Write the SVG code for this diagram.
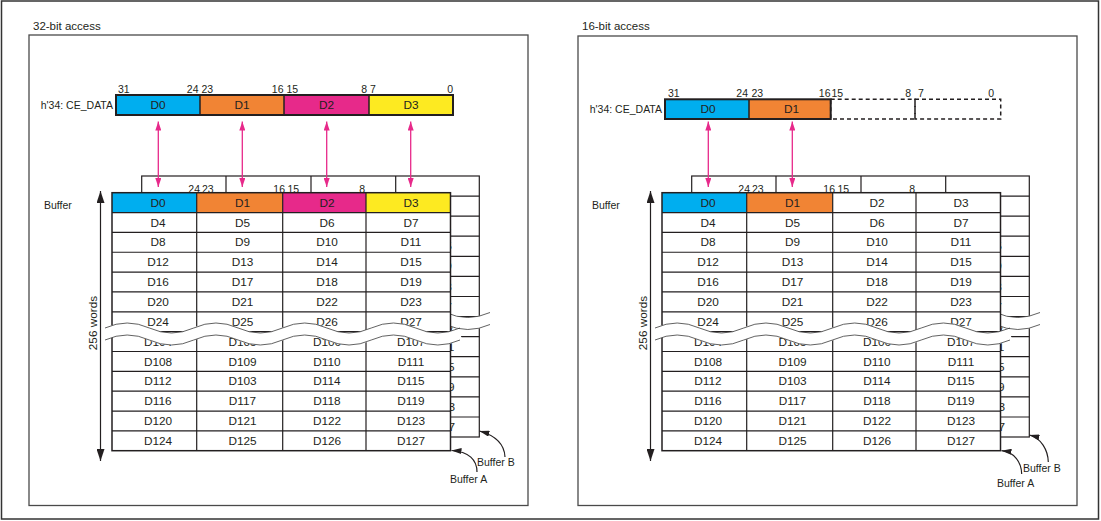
<svg xmlns="http://www.w3.org/2000/svg" xmlns:xlink="http://www.w3.org/1999/xlink" width="1101" height="521" viewBox="0 0 1101 521">
<style>
text{font-family:"Liberation Sans",Arial,sans-serif;fill:#231f20}
.t{font-size:11.8px;text-anchor:middle}
.s{font-size:10.5px}
.e{text-anchor:end}
.ti{font-size:11.5px}
.g{fill:#a9a9a9}
.ln{stroke:#231f20;stroke-width:1.2;fill:none}
.ol{stroke:#231f20;stroke-width:1.5;fill:none}
.reg{stroke:#231f20;stroke-width:2;fill:none}
.dv{stroke:#231f20;stroke-width:1.5}
.dash{stroke:#231f20;stroke-width:1.5;fill:none;stroke-dasharray:4 3}
.panel{fill:none;stroke:#4a4a4a;stroke-width:1.3}
.cy{fill:#00aeef}.or{fill:#f18434}.mg{fill:#e7298a}.ye{fill:#fdea21}
.pk{stroke:#e7298a;stroke-width:1.3;fill:none;marker-start:url(#pa);marker-end:url(#pa)}
.va{stroke:#231f20;stroke-width:1.2;fill:none;marker-start:url(#ba);marker-end:url(#ba)}
.co{stroke:#231f20;stroke-width:1.2;fill:none;marker-end:url(#ca)}
.band{stroke:#fff;stroke-width:12;fill:none}
.wl{stroke:#3a3a3a;stroke-width:0.8;fill:none}
</style>
<defs>
<marker id="pa" viewBox="0 0 9 6" refX="9" refY="3" markerWidth="9" markerHeight="6" markerUnits="userSpaceOnUse" orient="auto-start-reverse"><path d="M0,0L9,3L0,6z" fill="#e7298a"/></marker>
<marker id="ba" viewBox="0 0 12 8" refX="12" refY="4" markerWidth="12" markerHeight="8" markerUnits="userSpaceOnUse" orient="auto-start-reverse"><path d="M0,0L12,4L0,8z" fill="#231f20"/></marker>
<marker id="ca" viewBox="0 0 10 6" refX="10" refY="3" markerWidth="10" markerHeight="6" markerUnits="userSpaceOnUse" orient="auto"><path d="M0,0L10,3L0,6z" fill="#231f20"/></marker>
<path id="wv" d="M0,0q22.19,-10 44.375,0t44.375,0t44.375,0t44.375,0t44.375,0t44.375,0t44.375,0t44.375,0"/>
</defs>
<rect x="1.5" y="1" width="1097" height="518" fill="#fff" stroke="#333" stroke-width="1.5"/>

<g id="panel-left">
<rect class="panel" x="29" y="35" width="499" height="470.5"/>
<text class="ti" x="33" y="29.5">32-bit access</text>
<text class="s" x="44" y="209">Buffer</text>
<text class="t" transform="translate(96.5,323) rotate(-90)">256 words</text>
<text class="s" x="477" y="465.5">Buffer B</text>
<text class="s" x="450" y="483">Buffer A</text>
</g>

<g id="panel-right">
<rect class="panel" x="578" y="36" width="499" height="469.5"/>
<text class="ti" x="582" y="29.5">16-bit access</text>
<text class="s" x="592" y="209">Buffer</text>
<text class="t" transform="translate(646.5,323) rotate(-90)">256 words</text>
<text class="s" x="1023" y="472">Buffer B</text>
<text class="s" x="997" y="487">Buffer A</text>
</g>

<g id="bufB-left">
<rect x="141.7" y="176" width="337.6" height="261" fill="#fff" class="ln"/>
<path class="ln" d="M226,176V437M311,176V437M395.7,176V437M141.7,196.1H479.3M141.7,216.2H479.3M141.7,236.2H479.3M141.7,256.3H479.3M141.7,276.4H479.3M141.7,296.5H479.3M141.7,316.6H479.3M141.7,336.6H479.3M141.7,356.7H479.3M141.7,376.8H479.3M141.7,396.9H479.3M141.7,417H479.3"/>
<g class="s"><text class="e" x="200" y="193">24</text><text x="202" y="193">23</text><text class="e" x="285" y="193">16</text><text x="287.5" y="193">15</text><text class="e" x="365" y="193">8</text></g>
<g class="t g"><text x="441" y="210.1">D7</text><text x="441" y="230.2">D11</text><text x="441" y="250.3">D15</text><text x="441" y="270.4">D19</text><text x="441" y="290.5">D23</text><text x="441" y="310.5">D27</text><text x="441" y="330.6">D107</text><text x="441" y="350.7">D111</text><text x="441" y="370.8">D115</text><text x="441" y="390.9">D119</text><text x="441" y="411">D123</text><text x="441" y="431">D127</text></g>
<use xlink:href="#wv" class="band" transform="translate(135,318.5)"/>
<use xlink:href="#wv" class="wl" transform="translate(135,312.5)"/>
<use xlink:href="#wv" class="wl" transform="translate(135,324.5)"/>
</g>

<g id="bufA-left">
<rect x="112" y="192.7" width="338.5" height="258" fill="#fff"/>
<rect class="cy" x="112" y="192.7" width="84.7" height="19.85"/>
<rect class="or" x="196.7" y="192.7" width="86" height="19.85"/>
<rect class="mg" x="282.7" y="192.7" width="83.3" height="19.85"/>
<rect class="ye" x="366" y="192.7" width="84.5" height="19.85"/>
<path class="ln" d="M196.7,192.7V450.7M282.7,192.7V450.7M366,192.7V450.7M112,212.55H450.5M112,232.4H450.5M112,252.25H450.5M112,272.1H450.5M112,291.95H450.5M112,311.8H450.5M112,331.65H450.5M112,351.5H450.5M112,371.35H450.5M112,391.2H450.5M112,411.05H450.5M112,430.9H450.5"/>
<rect class="ol" x="112" y="192.7" width="338.5" height="258"/>
<g class="t">
<text x="158" y="206.7">D0</text><text x="242.5" y="206.7">D1</text><text x="327" y="206.7">D2</text><text x="411" y="206.7">D3</text>
<text x="158" y="226.6">D4</text><text x="242.5" y="226.6">D5</text><text x="327" y="226.6">D6</text><text x="411" y="226.6">D7</text>
<text x="158" y="246.4">D8</text><text x="242.5" y="246.4">D9</text><text x="327" y="246.4">D10</text><text x="411" y="246.4">D11</text>
<text x="158" y="266.3">D12</text><text x="242.5" y="266.3">D13</text><text x="327" y="266.3">D14</text><text x="411" y="266.3">D15</text>
<text x="158" y="286.1">D16</text><text x="242.5" y="286.1">D17</text><text x="327" y="286.1">D18</text><text x="411" y="286.1">D19</text>
<text x="158" y="306">D20</text><text x="242.5" y="306">D21</text><text x="327" y="306">D22</text><text x="411" y="306">D23</text>
<text x="158" y="325.8">D24</text><text x="242.5" y="325.8">D25</text><text x="327" y="325.8">D26</text><text x="411" y="325.8">D27</text>
<text x="158" y="345.7">D104</text><text x="242.5" y="345.7">D105</text><text x="327" y="345.7">D106</text><text x="411" y="345.7">D107</text>
<text x="158" y="365.5">D108</text><text x="242.5" y="365.5">D109</text><text x="327" y="365.5">D110</text><text x="411" y="365.5">D111</text>
<text x="158" y="385.4">D112</text><text x="242.5" y="385.4">D103</text><text x="327" y="385.4">D114</text><text x="411" y="385.4">D115</text>
<text x="158" y="405.2">D116</text><text x="242.5" y="405.2">D117</text><text x="327" y="405.2">D118</text><text x="411" y="405.2">D119</text>
<text x="158" y="425.1">D120</text><text x="242.5" y="425.1">D121</text><text x="327" y="425.1">D122</text><text x="411" y="425.1">D123</text>
<text x="158" y="444.9">D124</text><text x="242.5" y="444.9">D125</text><text x="327" y="444.9">D126</text><text x="411" y="444.9">D127</text>
</g>
<use xlink:href="#wv" class="band" transform="translate(105,334)"/>
<use xlink:href="#wv" class="wl" transform="translate(105,328)"/>
<use xlink:href="#wv" class="wl" transform="translate(105,340)"/>
</g>

<g id="reg-left">
<rect class="cy" x="116" y="95" width="84" height="20"/>
<rect class="or" x="200" y="95" width="84" height="20"/>
<rect class="mg" x="284" y="95" width="85" height="20"/>
<rect class="ye" x="369" y="95" width="84" height="20"/>
<path class="dv" d="M200,95V115M284,95V115M369,95V115"/>
<rect class="reg" x="116" y="95" width="337" height="20"/>
<g class="t"><text x="158" y="109">D0</text><text x="242" y="109">D1</text><text x="326.5" y="109">D2</text><text x="411" y="109">D3</text></g>
<g class="s"><text x="118" y="93">31</text><text class="e" x="198.5" y="93">24</text><text x="201.5" y="93">23</text><text class="e" x="283.5" y="93">16</text><text x="286.5" y="93">15</text><text class="e" x="367" y="93">8</text><text x="370" y="93">7</text><text class="e" x="453" y="93">0</text></g>
<text class="s e" x="113" y="109">h'34: CE_DATA</text>
</g>

<g id="bufB-right" transform="translate(550,0)">
<rect x="141.7" y="176" width="337.6" height="261" fill="#fff" class="ln"/>
<path class="ln" d="M226,176V437M311,176V437M395.7,176V437M141.7,196.1H479.3M141.7,216.2H479.3M141.7,236.2H479.3M141.7,256.3H479.3M141.7,276.4H479.3M141.7,296.5H479.3M141.7,316.6H479.3M141.7,336.6H479.3M141.7,356.7H479.3M141.7,376.8H479.3M141.7,396.9H479.3M141.7,417H479.3"/>
<g class="s"><text class="e" x="200" y="193">24</text><text x="202" y="193">23</text><text class="e" x="285" y="193">16</text><text x="287.5" y="193">15</text><text class="e" x="365" y="193">8</text></g>
<g class="t g"><text x="441" y="210.1">D7</text><text x="441" y="230.2">D11</text><text x="441" y="250.3">D15</text><text x="441" y="270.4">D19</text><text x="441" y="290.5">D23</text><text x="441" y="310.5">D27</text><text x="441" y="330.6">D107</text><text x="441" y="350.7">D111</text><text x="441" y="370.8">D115</text><text x="441" y="390.9">D119</text><text x="441" y="411">D123</text><text x="441" y="431">D127</text></g>
<use xlink:href="#wv" class="band" transform="translate(135,318.5)"/>
<use xlink:href="#wv" class="wl" transform="translate(135,312.5)"/>
<use xlink:href="#wv" class="wl" transform="translate(135,324.5)"/>
</g>

<g id="bufA-right" transform="translate(550,0)">
<rect x="112" y="192.7" width="338.5" height="258" fill="#fff"/>
<rect class="cy" x="112" y="192.7" width="84.7" height="19.85"/>
<rect class="or" x="196.7" y="192.7" width="86" height="19.85"/>
<path class="ln" d="M196.7,192.7V450.7M282.7,192.7V450.7M366,192.7V450.7M112,212.55H450.5M112,232.4H450.5M112,252.25H450.5M112,272.1H450.5M112,291.95H450.5M112,311.8H450.5M112,331.65H450.5M112,351.5H450.5M112,371.35H450.5M112,391.2H450.5M112,411.05H450.5M112,430.9H450.5"/>
<rect class="ol" x="112" y="192.7" width="338.5" height="258"/>
<g class="t">
<text x="158" y="206.7">D0</text><text x="242.5" y="206.7">D1</text><text x="327" y="206.7">D2</text><text x="411" y="206.7">D3</text>
<text x="158" y="226.6">D4</text><text x="242.5" y="226.6">D5</text><text x="327" y="226.6">D6</text><text x="411" y="226.6">D7</text>
<text x="158" y="246.4">D8</text><text x="242.5" y="246.4">D9</text><text x="327" y="246.4">D10</text><text x="411" y="246.4">D11</text>
<text x="158" y="266.3">D12</text><text x="242.5" y="266.3">D13</text><text x="327" y="266.3">D14</text><text x="411" y="266.3">D15</text>
<text x="158" y="286.1">D16</text><text x="242.5" y="286.1">D17</text><text x="327" y="286.1">D18</text><text x="411" y="286.1">D19</text>
<text x="158" y="306">D20</text><text x="242.5" y="306">D21</text><text x="327" y="306">D22</text><text x="411" y="306">D23</text>
<text x="158" y="325.8">D24</text><text x="242.5" y="325.8">D25</text><text x="327" y="325.8">D26</text><text x="411" y="325.8">D27</text>
<text x="158" y="345.7">D104</text><text x="242.5" y="345.7">D105</text><text x="327" y="345.7">D106</text><text x="411" y="345.7">D107</text>
<text x="158" y="365.5">D108</text><text x="242.5" y="365.5">D109</text><text x="327" y="365.5">D110</text><text x="411" y="365.5">D111</text>
<text x="158" y="385.4">D112</text><text x="242.5" y="385.4">D103</text><text x="327" y="385.4">D114</text><text x="411" y="385.4">D115</text>
<text x="158" y="405.2">D116</text><text x="242.5" y="405.2">D117</text><text x="327" y="405.2">D118</text><text x="411" y="405.2">D119</text>
<text x="158" y="425.1">D120</text><text x="242.5" y="425.1">D121</text><text x="327" y="425.1">D122</text><text x="411" y="425.1">D123</text>
<text x="158" y="444.9">D124</text><text x="242.5" y="444.9">D125</text><text x="327" y="444.9">D126</text><text x="411" y="444.9">D127</text>
</g>
<use xlink:href="#wv" class="band" transform="translate(105,334)"/>
<use xlink:href="#wv" class="wl" transform="translate(105,328)"/>
<use xlink:href="#wv" class="wl" transform="translate(105,340)"/>
</g>

<g id="reg-right">
<rect class="cy" x="665" y="99.3" width="84" height="19.7"/>
<rect class="or" x="749" y="99.3" width="81.7" height="19.7"/>
<rect class="dash" x="830.7" y="99.3" width="84.3" height="19.7"/>
<rect class="dash" x="915" y="99.3" width="85.7" height="19.7"/>
<path class="dv" d="M749,99.3V119"/>
<rect class="reg" x="665" y="99.3" width="165.7" height="19.7"/>
<g class="t"><text x="708" y="113">D0</text><text x="791.5" y="113">D1</text></g>
<g class="s"><text x="668" y="97">31</text><text class="e" x="748" y="97">24</text><text x="751.5" y="97">23</text><text class="e" x="830.5" y="97">16</text><text x="831.5" y="97">15</text><text class="e" x="911" y="97">8</text><text x="918" y="97">7</text><text class="e" x="994" y="97">0</text></g>
<text class="s e" x="662" y="113">h'34: CE_DATA</text>
</g>

<g id="connectors">
<line class="pk" x1="158.3" y1="121.5" x2="158.3" y2="187"/>
<line class="pk" x1="242.3" y1="121.5" x2="242.3" y2="187"/>
<line class="pk" x1="326.7" y1="121.5" x2="326.7" y2="187"/>
<line class="pk" x1="410.7" y1="121.5" x2="410.7" y2="187"/>
<line class="pk" x1="708.3" y1="121.5" x2="708.3" y2="187"/>
<line class="pk" x1="792.3" y1="121.5" x2="792.3" y2="187"/>
<line class="va" x1="100.5" y1="191" x2="100.5" y2="461"/>
<line class="va" x1="650.5" y1="191" x2="650.5" y2="461"/>
<path class="co" d="M477,472C477,460 469,451.5 451.5,450.5"/>
<path class="co" d="M505,457C504.5,445 497,436 479.5,431"/>
<path class="co" d="M1021.7,474C1021.5,462 1014,452 1001.5,450.7"/>
<path class="co" d="M1048.3,462C1048,450 1041,438 1029.5,435"/>
</g>
</svg>
